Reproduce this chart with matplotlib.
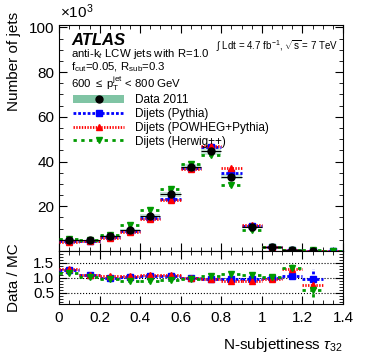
import matplotlib.pyplot as plt
import numpy as np
from matplotlib.lines import Line2D
from matplotlib.patches import Patch
from matplotlib.ticker import MultipleLocator, FuncFormatter

plt.rcParams["font.family"] = ["Liberation Sans", "DejaVu Sans"]
plt.rcParams["mathtext.fontset"] = "custom"
plt.rcParams["mathtext.rm"] = "Liberation Sans"
plt.rcParams["mathtext.it"] = "Liberation Sans:italic"
plt.rcParams["mathtext.bf"] = "Liberation Sans:bold"

# tau32 bins (width 0.1), counts in thousands of jets
bin_centers = [0.05, 0.15, 0.25, 0.35, 0.45, 0.55, 0.65, 0.75, 0.85, 0.95, 1.05, 1.15, 1.25, 1.35]
data_2011 = [5.0, 4.7, 6.6, 9.5, 15.6, 25.3, 37.7, 44.5, 33.2, 10.7, 1.6, 0.45, 0.12, np.nan]
data_syst = [0.3, 0.3, 0.4, 0.5, 0.7, 1.0, 1.3, 1.5, 1.2, 0.5, 0.1, 0.05, 0.02, np.nan]
pythia = [4.5, 4.4, 6.3, 9.0, 14.8, 23.2, 37.2, 46.5, 35.0, 11.3, 1.6, 0.42, 0.12, 0.03]
powheg = [4.1, 4.3, 6.0, 8.4, 14.2, 22.8, 36.8, 47.0, 37.0, 11.7, 1.65, 0.35, 0.15, 0.03]
herwig = [5.2, 4.9, 7.0, 11.7, 18.5, 27.5, 38.8, 43.0, 29.5, 9.5, 1.55, 0.34, 0.2, 0.04]

# Data / MC ratios (first 13 bins)
ratio_pythia = [1.27, 1.09, 1.00, 1.03, 1.07, 1.08, 1.00, 0.98, 0.97, 0.98, 1.00, 1.06, 0.98]
ratio_powheg = [1.29, 1.11, 1.05, 1.08, 1.10, 1.11, 1.01, 0.96, 0.91, 0.89, 0.97, 1.30, 0.78]
ratio_herwig = [1.18, 1.02, 0.97, 0.91, 0.91, 0.93, 0.98, 1.06, 1.13, 1.11, 1.03, 1.33, 0.61]
ratio_pythia_err = [0.03, 0.02, 0.02, 0.02, 0.02, 0.02, 0.02, 0.02, 0.02, 0.02, 0.03, 0.10, 0.33]
ratio_powheg_err = [0.03, 0.02, 0.02, 0.02, 0.02, 0.02, 0.02, 0.02, 0.02, 0.02, 0.03, 0.10, 0.08]
ratio_herwig_err = [0.03, 0.02, 0.02, 0.02, 0.02, 0.02, 0.02, 0.02, 0.02, 0.02, 0.03, 0.12, 0.25]

BAND = "#80c4a4"
MC_STYLES = [
    ("Dijets (Pythia)", "#0000ff", (0, (1, 0.7)), "s"),
    ("Dijets (POWHEG+Pythia)", "#ff0000", (0, (0.5, 0.5)), "^"),
    ("Dijets (Herwig++)", "#009a00", (0, (1.2, 1.6)), "v"),
]


def draw_mc(ax, x, y, yerr, color, ls, marker):
    cont = ax.errorbar(x, y, xerr=0.05, yerr=yerr, fmt=marker, color=color,
                       ms=4, elinewidth=2.0, capsize=0, zorder=3)
    for col in cont[2]:
        col.set_linestyle(ls)
    return cont


def style_axis(ax):
    ax.tick_params(direction="in", which="both", top=True, right=True,
                   labelsize=11)
    ax.tick_params(which="major", length=6)
    ax.tick_params(which="minor", length=3)
    ax.xaxis.set_major_locator(MultipleLocator(0.2))
    ax.xaxis.set_minor_locator(MultipleLocator(0.05))
    ax.set_xlim(0, 1.4)


fig = plt.figure(figsize=(3.74, 3.59), dpi=100)
ax = fig.add_axes([0.158, 0.301, 0.759, 0.629])
rax = fig.add_axes([0.158, 0.153, 0.759, 0.148], sharex=ax)

x = np.array(bin_centers)
ax.bar(x, 2 * np.array(data_syst), bottom=np.array(data_2011) - np.array(data_syst),
       width=0.1, color=BAND, alpha=0.45, linewidth=0, zorder=1)
mc_values = [pythia, powheg, herwig]
for (label, color, ls, marker), vals in zip(MC_STYLES, mc_values):
    draw_mc(ax, x, vals, None, color, ls, marker)
ax.errorbar(x, data_2011, xerr=0.05, fmt="o", color="black", ms=5,
            elinewidth=0.8, capsize=0, zorder=4)

style_axis(ax)
ax.set_ylim(0, 101)
ax.set_yticks([20, 40, 60, 80, 100])
ax.yaxis.set_minor_locator(MultipleLocator(5))
ax.tick_params(labelbottom=False)

# ratio panel
xr = x[:13]
ratios = [(ratio_pythia, ratio_pythia_err), (ratio_powheg, ratio_powheg_err),
          (ratio_herwig, ratio_herwig_err)]
for (label, color, ls, marker), (r, re) in zip(MC_STYLES, ratios):
    draw_mc(rax, xr, r, re, color, ls, marker)
for yv in (0.5, 1.0, 1.5):
    rax.axhline(yv, color="black", ls=":", lw=0.8, zorder=0)
style_axis(rax)
rax.set_ylim(0.13, 1.9)
rax.set_yticks([0.5, 1.0, 1.5])
rax.yaxis.set_minor_locator(MultipleLocator(0.1))
rax.xaxis.set_major_formatter(FuncFormatter(lambda v, p: f"{v:g}"))
rax.tick_params(axis="x", pad=5)

# labels
fig.text(14 / 374, 1 - 12 / 359, "Number of jets", rotation=90, ha="center",
         va="top", fontsize=11)
fig.text(14 / 374, 1 - 278 / 359, "Data / MC", rotation=90, ha="center",
         va="center", fontsize=11)
fig.text(343 / 374, 1 - 345 / 359, r"N-subjettiness $\tau_{32}$", ha="right",
         va="center", fontsize=11)
fig.text(60 / 374, 1 - 12 / 359, r"$\times$10$^{3}$", ha="left", va="center",
         fontsize=11)

ax.text(0.042, 0.93, "ATLAS", transform=ax.transAxes, fontsize=12,
        fontweight="bold", fontstyle="italic", va="center")
ax.text(0.042, 0.872, r"anti-k$_{t}$ LCW jets with R=1.0", transform=ax.transAxes,
        fontsize=8.2, va="center")
ax.text(0.042, 0.812, r"f$_{\rm cut}$=0.05, R$_{\rm sub}$=0.3", transform=ax.transAxes,
        fontsize=8.2, va="center")
ax.text(0.042, 0.740, r"600 $\leq$ p$_{\rm T}^{\rm jet}$ < 800 GeV",
        transform=ax.transAxes, fontsize=8.2, va="center")
ax.text(0.982, 0.905, r"$\int$ Ldt = 4.7 fb$^{-1}$, $\sqrt{\rm s}$ = 7 TeV",
        transform=ax.transAxes, fontsize=7, ha="right", va="center")

handles = [(Patch(facecolor=BAND, edgecolor="none"),
            Line2D([], [], ls="none", marker="o", color="black", ms=5))]
for label, color, ls, marker in MC_STYLES:
    handles.append(Line2D([], [], color=color, ls=ls, lw=2, marker=marker, ms=4))
labels = ["Data 2011"] + [s[0] for s in MC_STYLES]
ax.legend(handles, labels, loc="upper left", bbox_to_anchor=(0.05, 0.694),
          frameon=False, fontsize=8.5, handlelength=4.3, handletextpad=0.9,
          labelspacing=0.15, borderpad=0, borderaxespad=0)

fig.savefig("out.png", dpi=100)
